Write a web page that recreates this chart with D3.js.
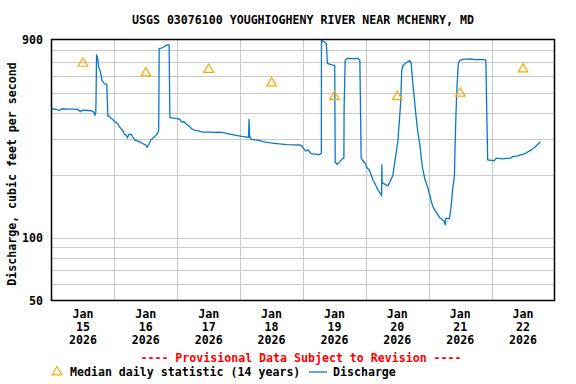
<!DOCTYPE html>
<html><head><meta charset="utf-8">
<script src="https://cdn.jsdelivr.net/npm/d3@7"></script>
<style>
html,body{margin:0;padding:0;background:#fff;}
text{font-family:"DejaVu Sans Mono","Liberation Mono",monospace;font-weight:bold;}
</style></head>
<body>
<svg id="chart" width="576" height="384"></svg>
<script>
const title = "USGS 03076100 YOUGHIOGHENY RIVER NEAR MCHENRY, MD";
const yLabel = "Discharge, cubic feet per second";
const dayLabels = ["15","16","17","18","19","20","21","22"];
const yTickValues = [50, 100, 900];
const yGridValues = [60,70,80,90,100,200,300,400,500,600,700,800];
// median daily statistic, one per day (noon)
const medianDays = [15,16,17,18,19,20,21,22];
const medianValues = [690, 620, 645, 555, 477, 477, 496, 648];
// discharge: hours since 2026-01-15 00:00, and cfs
const dischargeHours = [0,2,3,4,6,8,10,11,12,14,15.5,16.3,16.6,16.9,17.0,17.2,17.5,17.8,18.0,18.6,19.0,19.3,20.2,21.1,21.3,21.5,22.0,22.5,23.3,23.8,24.4,25.2,25.6,26.3,27.2,27.8,28.5,29.0,29.6,30.5,31.2,31.8,33.0,34.3,35.0,36.0,36.5,37.2,38.0,39.0,40.0,40.6,40.9,41.0,41.1,42.0,43.0,43.9,44.9,45.0,45.2,46.0,47.5,49.0,49.6,50.5,51.5,52.5,53.5,54.5,56.0,58,60,62,64,66,68,70,72,74,75.2,75.4,75.6,76.2,78,80,81,83,85,87,90,93,95.2,96.0,97.0,97.9,99.0,100,101,102,103.0,103.05,104,104.9,105.1,105.3,107,108.1,108.3,109,110,111,111.6,111.7,112.1,113,115,117,117.7,118.2,118.9,119.6,120.4,121.5,122.7,123.4,124.6,125.3,126.0,126.1,126.2,127.0,128.4,129.1,130.3,131.0,132.2,132.6,133.3,133.7,134.1,135,136.0,136.8,137.3,137.9,138.7,139.2,139.8,140.6,141.2,141.7,142.5,143.6,144.4,145.5,146.3,147.4,148.2,149.0,150.0,150.3,150.5,151.9,152.5,153.1,153.8,154.0,154.4,154.8,155.3,155.8,156.9,159.6,161.9,164,165.8,166.1,166.5,169.0,169.7,172,175.2,176.0,178,180.6,182.5,184.4,186.6];
const dischargeCfs = [418,415,410,418,416,416,415,405,412,410,408,400,390,400,470,754,745,700,665,636,600,570,552,548,470,385,385,378,372,366,360,355,348,338,328,316,312,304,315,314,304,296,292,287,283,280,273,283,297,304,312,320,330,480,815,818,830,845,848,615,380,378,376,372,362,362,352,345,335,330,327,323,323,322,323,320,316,312,309,306,304,373,310,298,296,293,290,287,285,283,281,280,279,272,262,265,255,253,253,251,255,890,880,860,782,690,680,675,231,226,232,240,242,425,715,730,728,730,715,243,235,230,218,210,190,183,170,165,160,226,185,182,178,185,200,230,290,340,450,640,672,690,705,712,690,560,440,380,325,280,240,215,192,175,160,142,136,130,125,123,120,115,124,124,140,170,198,260,400,540,690,712,722,726,720,722,716,432,237,235,242,240,242,246,248,254,262,272,290];

const FS = "11.6px";
const svg = d3.select("#chart");
const L = 51.5, R = 554.5, T = 39.5, B = 300.5;
const t0 = new Date(2026,0,15,0,0,0), t1 = new Date(2026,0,23,0,0,0);
const x = d3.scaleTime().domain([t0,t1]).range([L,R]);
const y = d3.scaleLog().domain([50,900]).range([B,T]);
const hrs = h => new Date(t0.getTime() + h*3600e3);

// gridlines
const g = svg.append("g");
g.selectAll("line.hg").data(yGridValues).join("line")
  .attr("x1",L).attr("x2",R)
  .attr("y1",d=>Math.round(y(d))+0.5).attr("y2",d=>Math.round(y(d))+0.5)
  .attr("stroke","#c8c8c8").attr("stroke-width",1);
const dayBounds = d3.timeDay.range(new Date(2026,0,16), t1);
g.selectAll("line.vg").data(dayBounds).join("line")
  .attr("y1",T).attr("y2",B)
  .attr("x1",d=>Math.round(x(d))+0.5).attr("x2",d=>Math.round(x(d))+0.5)
  .attr("stroke","#c8c8c8").attr("stroke-width",1);

// discharge line
const pts = dischargeHours.map((h,i)=>[hrs(h), dischargeCfs[i]]);
svg.append("path").datum(pts)
  .attr("fill","none").attr("stroke","#0a78c8").attr("stroke-width",1.3)
  .attr("d", d3.line().x(d=>x(d[0])).y(d=>y(d[1])));

// medians
const tri = d3.symbol().type(d3.symbolTriangle).size(40);
svg.selectAll("path.med").data(medianDays.map((d,i)=>[new Date(2026,0,d,12), medianValues[i]]))
  .join("path")
  .attr("d", tri)
  .attr("transform", d=>`translate(${x(d[0])},${y(d[1])})`)
  .attr("fill","none").attr("stroke","#ffa500").attr("stroke-width",1.2);

// frame
svg.append("rect").attr("x",L).attr("y",T).attr("width",R-L).attr("height",B-T)
  .attr("fill","none").attr("stroke","#000").attr("stroke-width",1.5);

// y tick labels
svg.selectAll("text.yt").data(yTickValues).join("text")
  .attr("x",43).attr("y",d=>y(d)+4).attr("text-anchor","end")
  .attr("font-size",FS).text(d=>d);

// x labels
const xl = svg.selectAll("g.xl").data(dayLabels).join("g")
  .attr("transform",(d)=>`translate(${x(new Date(2026,0,+d,12))},0)`);
xl.append("text").attr("y",318).attr("text-anchor","middle").attr("font-size",FS).text("Jan");
xl.append("text").attr("y",331).attr("text-anchor","middle").attr("font-size",FS).text(d=>d);
xl.append("text").attr("y",344).attr("text-anchor","middle").attr("font-size",FS).text("2026");

// title
svg.append("text").attr("x",303).attr("y",24).attr("text-anchor","middle")
  .attr("font-size",FS).text(title);

// y axis label
svg.append("text").attr("transform","translate(16,174) rotate(-90)")
  .attr("text-anchor","middle").attr("font-size",FS).text(yLabel);

// provisional
svg.append("text").attr("x",301).attr("y",362).attr("text-anchor","middle")
  .attr("font-size",FS).attr("fill","#ff0000")
  .text("---- Provisional Data Subject to Revision ----");

// legend
svg.append("path").attr("d",tri).attr("transform","translate(57,372)")
  .attr("fill","none").attr("stroke","#ffa500").attr("stroke-width",1.2);
svg.append("text").attr("x",70).attr("y",376).attr("font-size",FS)
  .text("Median daily statistic (14 years)");
svg.append("line").attr("x1",309).attr("x2",327).attr("y1",372).attr("y2",372)
  .attr("stroke","#0a78c8").attr("stroke-width",1.3);
svg.append("text").attr("x",333).attr("y",376).attr("font-size",FS).text("Discharge");
</script>
</body></html>
